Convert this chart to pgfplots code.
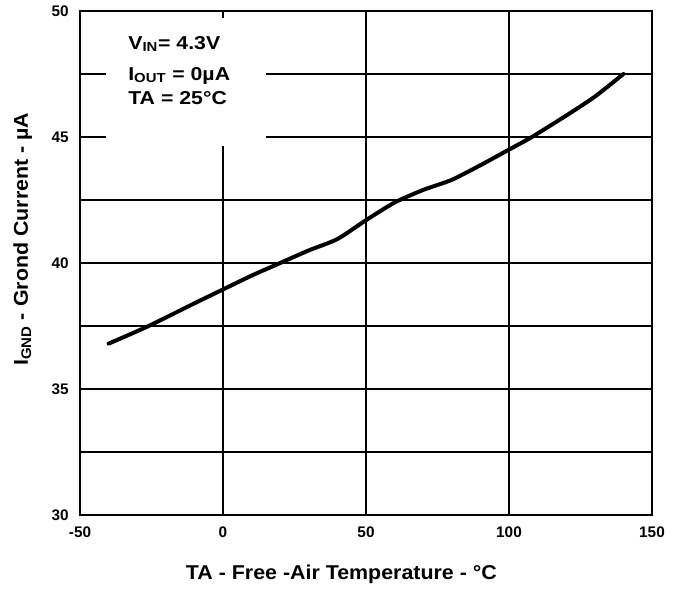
\documentclass[border=0pt]{standalone}
\usepackage{pgfplots}
\pgfplotsset{compat=1.18}
\usepackage{graphicx}
\usepackage{fontspec}
\setmainfont{Liberation Sans}
\begin{document}
\begin{tikzpicture}[x=1pt,y=1pt]
\useasboundingbox (0,0) rectangle (510.75,442.5);
\begin{axis}[
  at={(60pt,56.25pt)}, anchor=south west,
  scale only axis, width=429pt, height=378pt,
  xmin=-50, xmax=150, ymin=30, ymax=50,
  xtick={-50,0,...,150}, ytick={30,35,...,50},
  minor ytick={32.5,37.5,42.5,47.5},
  grid=both,
  major grid style={black, line width=1pt},
  minor grid style={black, line width=1pt},
  axis line style={black, line width=1.5pt},
  major tick length=0pt, minor tick length=0pt,
  /pgf/number format/assume math mode=true,
  ticklabel style={font=\bfseries\fontsize{11.5}{13}\selectfont},
  xticklabel style={yshift=-5pt},
  yticklabel style={xshift=-5pt},
  xlabel={\scalebox{1.07}[1]{TA - Free -Air Temperature - °C}},
  ylabel={\scalebox{1.07}[1]{I\textsubscript{GND} - Grond Current - µA}},
  label style={font=\bfseries\fontsize{15}{18}\selectfont},
  xlabel style={at={(rel axis cs:0.457,-0.117)}, anchor=center},
  ylabel style={at={(rel axis cs:-0.1,0.547)}, anchor=center},
]
\fill[white] (axis cs:-40.8,49.72) rectangle (axis cs:15,44.66);
\node[anchor=base west, inner sep=0pt, font=\bfseries\fontsize{14}{16}\selectfont] at (axis cs:-33.2,48.49) {\scalebox{1.14}[1]{V\textsubscript{IN}= 4.3V}};
\node[anchor=base west, inner sep=0pt, font=\bfseries\fontsize{14}{16}\selectfont] at (axis cs:-33.2,47.26) {\scalebox{1.14}[1]{I\textsubscript{OUT} = 0µA}};
\node[anchor=base west, inner sep=0pt, font=\bfseries\fontsize{14}{16}\selectfont] at (axis cs:-33.2,46.27) {\scalebox{1.14}[1]{TA = 25°C}};
\addplot[black, line width=3pt, line cap=round, smooth, tension=0.4] coordinates {
  (-40,36.8) (-26,37.5) (-10,38.4) (0,38.95) (10,39.5) (20,40.0) (30,40.5)
  (40,40.95) (50,41.7) (60,42.4) (70,42.9) (80,43.3) (90,43.88) (100,44.5)
  (108,45.0) (120,45.85) (130,46.6) (140,47.5)
};
\end{axis}
\end{tikzpicture}
\end{document}
